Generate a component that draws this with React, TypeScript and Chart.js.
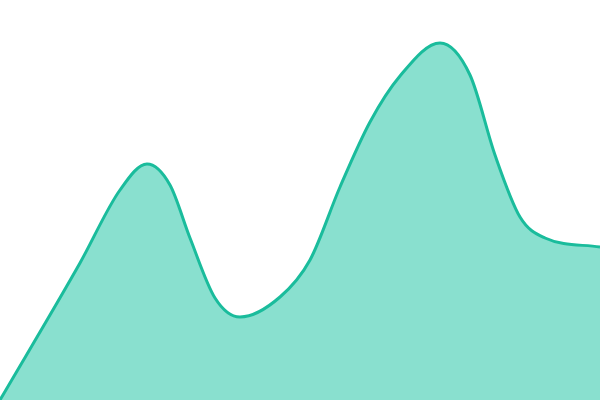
import React, { useEffect, useRef } from "react";
import { Chart, registerables } from "chart.js";

Chart.register(...registerables);

const xPositions = [0, 80, 120, 147, 170, 190, 215, 240, 280, 310, 340, 370, 400, 440, 470, 495, 520, 545, 600];
const yValues = [0, 137, 210, 236, 215, 162, 102, 83, 103, 140, 213, 278, 324, 357, 325, 245, 183, 162, 153];

export default function App() {
  const ref = useRef<HTMLCanvasElement>(null);
  useEffect(() => {
    document.body.style.margin = "0";
    const ctx = ref.current!;
    const chart = new Chart(ctx, {
      type: "line",
      data: {
        datasets: [
          {
            data: xPositions.map((x, i) => ({ x, y: yValues[i] })),
            borderColor: "#1abc9c",
            backgroundColor: "#89e0cf",
            borderWidth: 3,
            fill: "start",
            pointRadius: 0,
            cubicInterpolationMode: "monotone",
          },
        ],
      },
      options: {
        animation: false,
        responsive: true,
        maintainAspectRatio: false,
        layout: { padding: 0 },
        plugins: { legend: { display: false }, tooltip: { enabled: false } },
        scales: {
          x: { type: "linear", min: 0, max: 600, display: false },
          y: { type: "linear", min: 0, max: 400, display: false },
        },
      },
    });
    return () => chart.destroy();
  }, []);
  return (
    <div style={{ width: 600, height: 400, position: "relative" }}>
      <canvas ref={ref} />
    </div>
  );
}
